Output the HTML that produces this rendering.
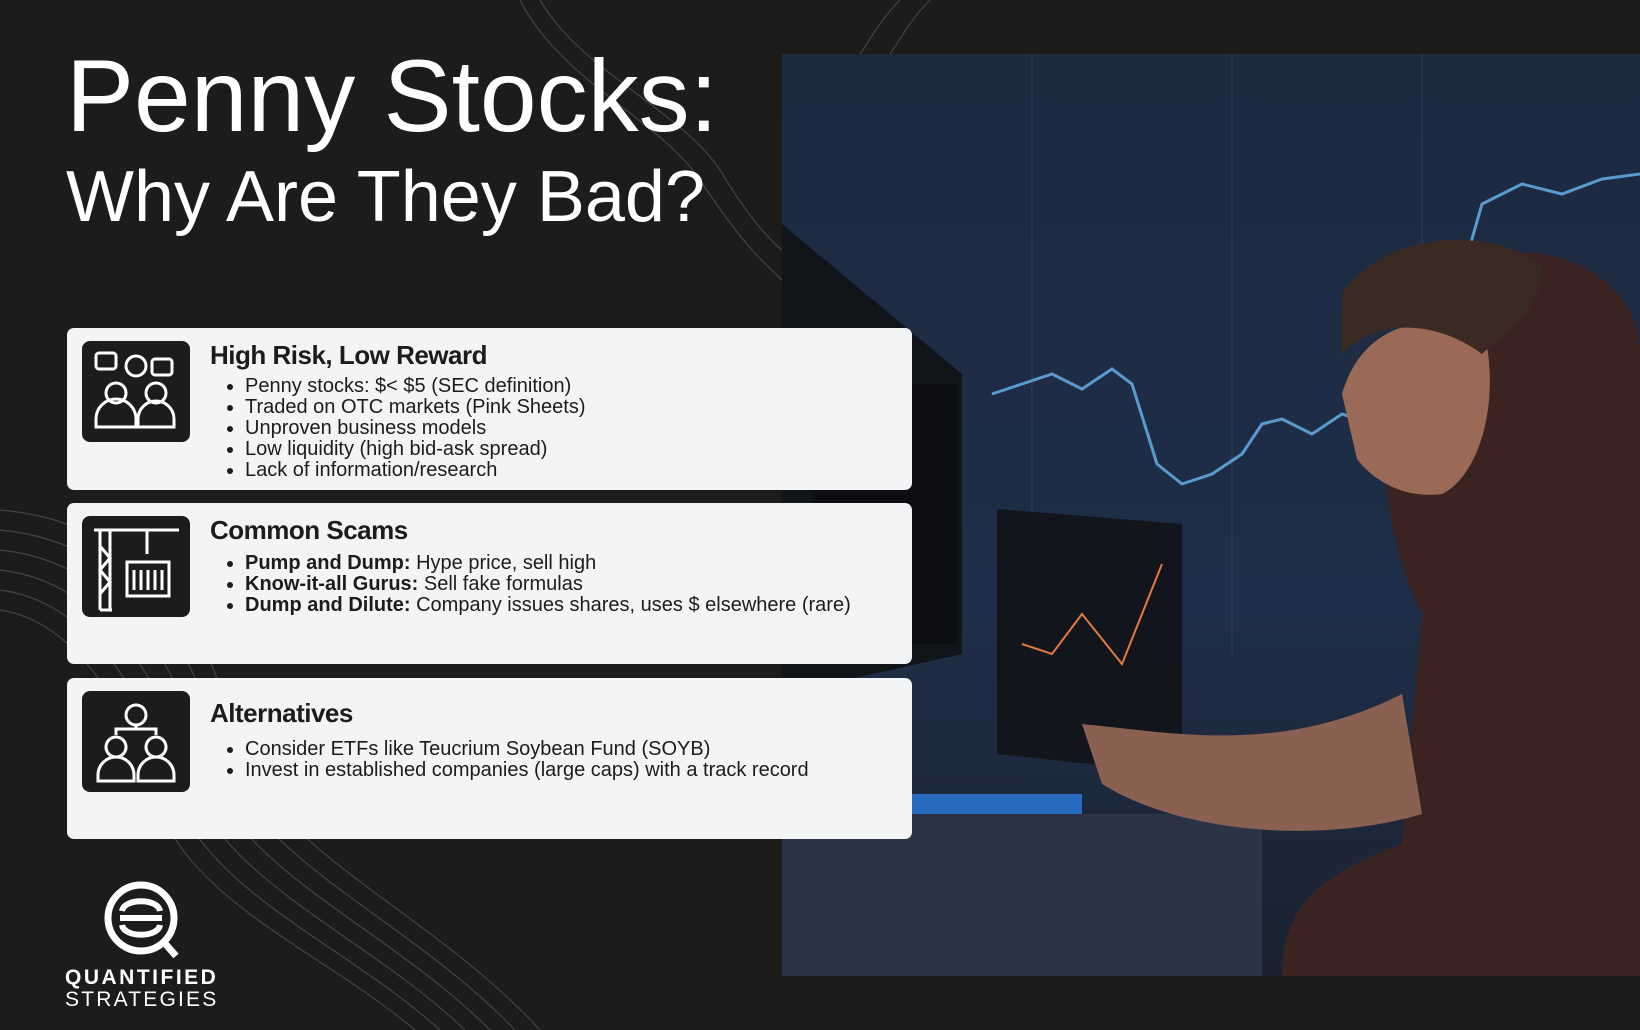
<!DOCTYPE html>
<html><head><meta charset="utf-8"><style>
*{margin:0;padding:0;box-sizing:border-box}
body{width:1640px;height:1030px;background:#1e1c1a;position:relative;overflow:hidden;font-family:"Liberation Sans",sans-serif}
.t1{position:absolute;left:66px;top:38px;color:#fff;font-size:102px;font-weight:400;letter-spacing:0px;white-space:nowrap}
.t2{position:absolute;left:66px;top:156px;color:#fff;font-size:72px;white-space:nowrap}
.card{position:absolute;left:67px;width:845px;background:#f3f4f6;border-radius:7px}
.icon{position:absolute;left:15px;top:13px;width:108px;height:101px;background:#1e1c1a;border-radius:8px}
.card h2{position:absolute;left:143px;top:12px;font-size:26px;font-weight:700;color:#1e1c1a;letter-spacing:-0.5px;white-space:nowrap}
.card ul{position:absolute;left:178px;top:48px;font-size:20px;line-height:21px;color:#1e1c1a;white-space:nowrap}
.card li{margin-left:0}
.photo{position:absolute;left:782px;top:54px;width:858px;height:922px;overflow:hidden}
</style></head><body>
<svg style="position:absolute;left:0;top:0" width="1640" height="1030">
<g fill="none" stroke="#555" stroke-width="1.2" opacity="0.7">
<path d="M0 510 C120 520 200 600 230 720 C260 850 420 900 540 1030"/>
<path d="M0 530 C110 540 185 620 215 735 C245 860 400 910 515 1030"/>
<path d="M0 550 C100 560 170 640 200 750 C230 870 380 920 490 1030"/>
<path d="M0 570 C90 580 155 660 185 765 C215 880 360 930 465 1030"/>
<path d="M0 590 C80 600 140 680 170 780 C200 890 340 940 440 1030"/>
<path d="M0 610 C70 620 125 700 155 795 C185 900 320 950 415 1030"/>
<path d="M520 0 C560 80 660 120 700 180 C740 240 760 260 782 280"/>
<path d="M540 0 C580 70 680 110 720 170 C750 220 770 240 782 250"/>
<path d="M900 0 C880 20 870 40 860 54"/>
<path d="M930 0 C910 20 900 40 890 54"/>
</g></svg>
<div class="t1">Penny Stocks:</div>
<div class="t2">Why Are They Bad?</div>

<div class="photo">
<svg width="858" height="922">
<defs><linearGradient id="bg" x1="0" y1="0" x2="0" y2="1"><stop offset="0" stop-color="#1c2a40"/><stop offset="0.6" stop-color="#1f2e48"/><stop offset="1" stop-color="#1a2230"/></linearGradient></defs>
<rect width="858" height="922" fill="url(#bg)"/>
<g stroke="#2e4060" stroke-width="1"><line x1="250" y1="0" x2="250" y2="600"/><line x1="450" y1="0" x2="450" y2="600"/><line x1="640" y1="0" x2="640" y2="600"/></g>
<polyline fill="none" stroke="#5a9ad0" stroke-width="3" points="210,340 240,330 270,320 300,335 330,315 350,330 375,410 400,430 430,420 460,400 480,370 500,365 530,380 560,360 590,370 610,340 625,250 640,230 680,220 700,150 740,130 780,140 820,125 858,120"/>
<polygon fill="#111418" points="0,170 180,320 180,600 0,640"/>
<polygon fill="#0c0e12" points="30,330 175,330 175,590 30,590"/>
<polygon fill="#12161c" points="215,455 400,470 400,720 215,700"/>
<polyline fill="none" stroke="#e07a40" stroke-width="2" points="240,590 270,600 300,560 320,585 340,610 360,560 380,510"/>
<rect x="100" y="740" width="200" height="20" fill="#2a7ae0" opacity="0.8"/>
<rect x="0" y="760" width="480" height="162" fill="#2a3446"/>
<path d="M600 360 C600 230 680 190 760 200 C820 210 858 250 858 300 L858 922 L500 922 C500 850 540 820 620 790 L640 560 C610 500 600 430 600 360Z" fill="#3a2320"/>
<path d="M560 340 C580 270 640 260 700 270 C720 340 700 420 660 440 C620 445 590 425 575 405Z" fill="#9a6a56"/>
<path d="M560 240 C600 180 700 170 760 210 C760 260 720 280 700 300 C660 270 600 260 560 300Z" fill="#3b2a22"/>
<path d="M300 670 C400 680 500 700 620 640 L640 760 C540 790 400 780 320 730Z" fill="#8a6052"/>
</svg></div>

<div class="card" style="top:328px;height:162px">
<div class="icon"><svg width="108" height="101" fill="none" stroke="#fff" stroke-width="3"><rect x="14" y="12" width="20" height="16" rx="3"/><rect x="70" y="18" width="20" height="16" rx="3"/><circle cx="54" cy="25" r="10"/><circle cx="34" cy="52" r="10"/><circle cx="74" cy="52" r="10"/><path d="M14 86 v-8 a12 12 0 0 1 40 0 v8z M56 86 v-8 a12 12 0 0 1 36 0 v8z"/></svg></div>
<h2>High Risk, Low Reward</h2>
<ul><li>Penny stocks: $&lt; $5 (SEC definition)</li><li>Traded on OTC markets (Pink Sheets)</li><li>Unproven business models</li><li>Low liquidity (high bid-ask spread)</li><li>Lack of information/research</li></ul>
</div>
<div class="card" style="top:503px;height:161px">
<div class="icon"><svg width="108" height="101" fill="none" stroke="#fff" stroke-width="3"><path d="M12 14 h85 M18 14 v80 M28 14 v80 M18 94 h12"/><path d="M18 30 l10 12 l-10 12 l10 12 l-10 12"/><line x1="65" y1="14" x2="65" y2="38"/><rect x="45" y="46" width="42" height="34"/><path d="M52 54 v20 M59 54 v20 M66 54 v20 M73 54 v20 M80 54 v20"/></svg></div>
<h2>Common Scams</h2>
<ul style="top:50px"><li><b>Pump and Dump:</b> Hype price, sell high</li><li><b>Know-it-all Gurus:</b> Sell fake formulas</li><li><b>Dump and Dilute:</b> Company issues shares, uses $ elsewhere (rare)</li></ul>
</div>
<div class="card" style="top:678px;height:161px">
<div class="icon"><svg width="108" height="101" fill="none" stroke="#fff" stroke-width="3"><circle cx="54" cy="24" r="10"/><circle cx="34" cy="56" r="10"/><circle cx="74" cy="56" r="10"/><path d="M34 44 v-6 h40 v6 M54 34 v4"/><path d="M16 90 v-6 a12 12 0 0 1 36 0 v6z M56 90 v-6 a12 12 0 0 1 36 0 v6z"/></svg></div>
<h2 style="top:20px">Alternatives</h2>
<ul style="top:61px"><li>Consider ETFs like Teucrium Soybean Fund (SOYB)</li><li>Invest in established companies (large caps) with a track record</li></ul>
</div>

<svg style="position:absolute;left:100px;top:878px" width="90" height="90"><circle cx="41" cy="40" r="33" fill="none" stroke="#fff" stroke-width="7"/><path d="M22 33 C24 20 58 20 60 33 M20 40 h42 M22 47 C24 60 58 60 60 47" fill="none" stroke="#fff" stroke-width="6"/><line x1="62" y1="62" x2="76" y2="78" stroke="#fff" stroke-width="7"/></svg>
<div style="position:absolute;left:65px;top:966px;color:#fff;font-size:21px;font-weight:700;letter-spacing:2.5px">QUANTIFIED</div>
<div style="position:absolute;left:65px;top:988px;color:#fff;font-size:21px;letter-spacing:2.2px">STRATEGIES</div>
</body></html>
